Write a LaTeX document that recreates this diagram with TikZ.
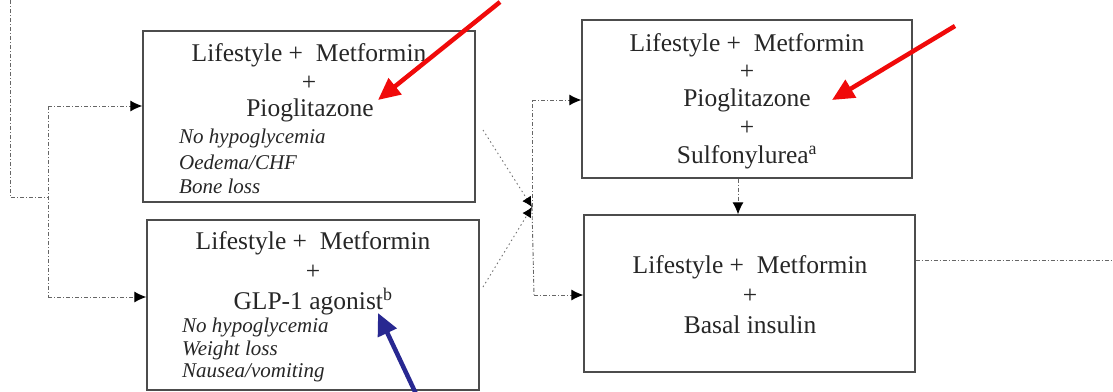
\documentclass[tikz,border=0pt]{standalone}
\usepackage{fontspec}
\setmainfont{Liberation Serif}
\usetikzlibrary{arrows.meta}
\definecolor{hlred}{RGB}{240,10,10}
\definecolor{hlblue}{RGB}{40,40,145}
\begin{document}
\begin{tikzpicture}[x=1pt,y=-1pt,
  box/.style={draw=black!70, line width=1.4pt, rectangle, inner sep=0pt},
  main/.style={font=\fontsize{25.5}{28}\selectfont, text=black!85, inner sep=0pt, anchor=center},
  note/.style={font=\fontsize{21}{23}\selectfont\itshape, text=black!85, inner sep=0pt, anchor=west},
  conn/.style={draw=black!60, line width=0.9pt, dash pattern=on 4pt off 2pt on 1pt off 2pt},
  tip/.style={-{Latex[length=12pt,width=11pt,black]}},
  diag/.style={draw=black!55, line width=0.9pt, dash pattern=on 1.5pt off 3pt},
  jtip/.style={-{Latex[length=10pt,width=10pt,black]}},
  hl/.style={line width=4.5pt, -{Triangle[length=22pt,width=20pt]}}]
\useasboundingbox (0,0) rectangle (1113,391);

% boxes
\node[box, minimum width=332pt, minimum height=171pt] (boxA) at (309,116.5) {};
\node[box, minimum width=332pt, minimum height=170pt] (boxB) at (313,305) {};
\node[box, minimum width=330pt, minimum height=158pt] (boxC) at (747,99) {};
\node[box, minimum width=331pt, minimum height=157pt] (boxD) at (749.5,293.5) {};

% box A texts
\node[main] (a1) at (309,55) {Lifestyle +\ \ Metformin};
\node[main] (a2) at (309,83) {+};
\node[main] (a3) at (310,110) {Pioglitazone};
\node[note] (a4) at (179,138) {No hypoglycemia};
\node[note] (a5) at (179,162) {Oedema/CHF};
\node[note] (a6) at (179,186) {Bone loss};

% box B texts
\node[main] (b1) at (313,243) {Lifestyle +\ \ Metformin};
\node[main] (b2) at (313,272) {+};
\node[main] (b3) at (313,302) {GLP-1 agonist\textsuperscript{b}};
\node[note] (b4) at (182,327) {No hypoglycemia};
\node[note] (b5) at (182,350) {Weight loss};
\node[note] (b6) at (182,373) {Nausea/vomiting};

% box C texts
\node[main] (c1) at (747,45) {Lifestyle +\ \ Metformin};
\node[main] (c2) at (747,72) {+};
\node[main] (c3) at (747,100) {Pioglitazone};
\node[main] (c4) at (747,128) {+};
\node[main] (c5) at (747,157) {Sulfonylurea\textsuperscript{a}};

% box D texts
\node[main] (d1) at (750,267) {Lifestyle +\ \ Metformin};
\node[main] (d2) at (750,296) {+};
\node[main] (d3) at (750,325) {Basal insulin};

% left connectors
\coordinate (src) at (10,0);
\coordinate (split) at (48,197);
\coordinate (splitT) at (48,106);
\coordinate (splitB) at (48,297);
\draw[conn] (src) |- (split);
\draw[conn] (splitT) -- (splitB);
\draw[conn,tip] (splitT) -- (splitT -| boxA.west);
\draw[conn,tip] (splitB) -- (splitB -| boxB.west);

% merge connectors
\coordinate (join) at (532,207);
\coordinate (aOut) at (483,130);
\coordinate (bOut) at (483,287);
\coordinate (cIn) at (532,100);
\coordinate (dIn) at (534,295);
\draw[diag,jtip] (aOut) -- (join);
\draw[diag,jtip] (bOut) -- (join);
\draw[conn] (join) -- (cIn);
\draw[conn,tip] (cIn) -- (cIn -| boxC.west);
\draw[conn] (join) -- (dIn);
\draw[conn,tip] (dIn) -- (dIn -| boxD.west);

% C to D
\coordinate (cdx) at (738,0);
\draw[conn,tip] (boxC.south -| cdx) -- (boxD.north -| cdx);

% D out
\coordinate (exitR) at (1113,260);
\draw[conn] (boxD.east |- exitR) -- (exitR);

% highlight arrows
\coordinate (r1s) at (500,2);
\coordinate (r1t) at (378,100);
\coordinate (r2s) at (955,26);
\coordinate (r2t) at (832,100);
\coordinate (bls) at (417,396);
\coordinate (blt) at (378,313);
\draw[hl,hlred] (r1s) -- (r1t);
\draw[hl,hlred] (r2s) -- (r2t);
\draw[hl,hlblue] (bls) -- (blt);
\end{tikzpicture}
\end{document}
